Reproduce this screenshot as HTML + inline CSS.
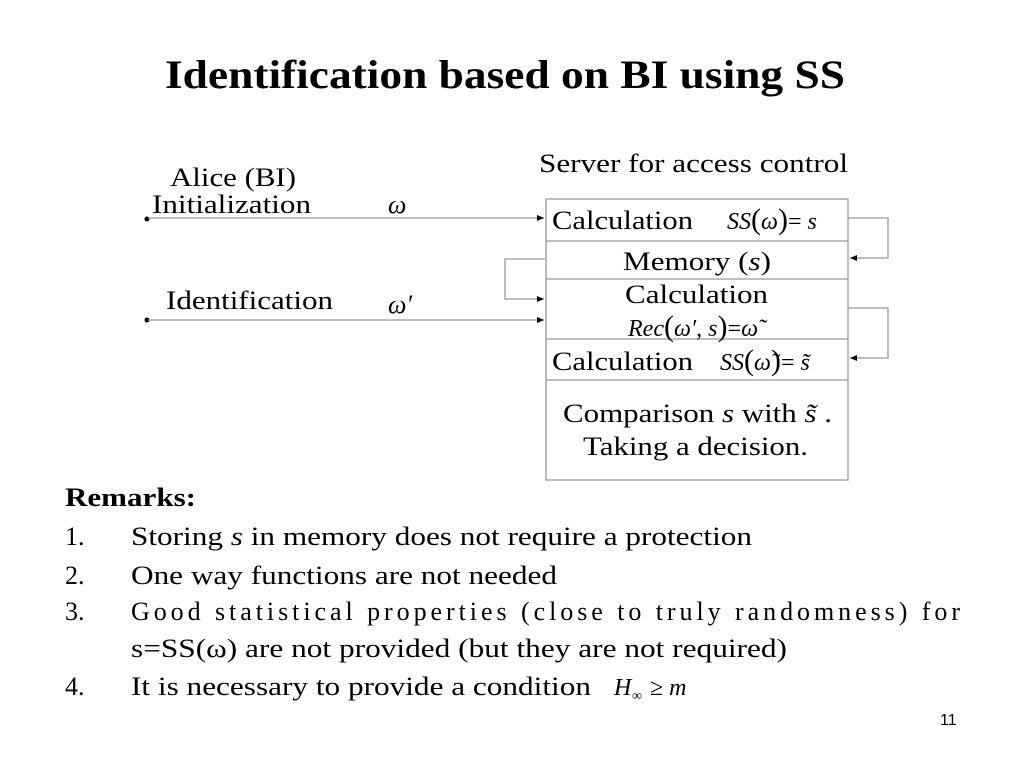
<!DOCTYPE html>
<html><head><meta charset="utf-8"><style>
html,body{margin:0;padding:0;background:#fff;}
svg{display:block;}
text{font-family:"Liberation Serif",serif;fill:#000;}
</style></head><body>
<svg width="1024" height="768" viewBox="0 0 1024 768" xmlns="http://www.w3.org/2000/svg">
<defs><marker id="a" markerWidth="8" markerHeight="8" refX="7" refY="3" orient="auto" markerUnits="userSpaceOnUse"><path d="M0,0 L7,3 L0,6 z" fill="#000"/></marker></defs>
<text x="165" y="88" font-size="40" font-weight="bold" textLength="680" lengthAdjust="spacingAndGlyphs">Identification based on BI using SS</text>
<text x="539" y="172" font-size="26" textLength="309" lengthAdjust="spacingAndGlyphs">Server for access control</text>
<text x="170" y="186" font-size="26" textLength="126" lengthAdjust="spacingAndGlyphs">Alice (BI)</text>
<text x="152" y="213" font-size="26" textLength="159" lengthAdjust="spacingAndGlyphs">Initialization</text>
<text x="388" y="213" font-size="26" font-style="italic">ω</text>
<text x="166" y="309" font-size="26" textLength="167" lengthAdjust="spacingAndGlyphs">Identification</text>
<text x="388" y="313" font-size="26" font-style="italic">ω′</text>
<circle cx="147" cy="219" r="2.5" fill="#000"/>
<circle cx="147" cy="320" r="2.5" fill="#000"/>
<g stroke="#999" stroke-width="1.3" fill="none">
<line x1="148" y1="218" x2="544" y2="218" marker-end="url(#a)"/>
<line x1="148" y1="320" x2="544" y2="320" marker-end="url(#a)"/>
<polyline points="545,259 505,259 505,299 544,299" marker-end="url(#a)"/>
<polyline points="848,218 888,218 888,258 850,258" marker-end="url(#a)"/>
<polyline points="848,308 888,308 888,358 850,358" marker-end="url(#a)"/>
<rect x="546" y="199" width="302" height="281"/>
<line x1="546" y1="241" x2="848" y2="241"/>
<line x1="546" y1="279" x2="848" y2="279"/>
<line x1="546" y1="339" x2="848" y2="339"/>
<line x1="546" y1="380" x2="848" y2="380"/>
</g>
<text x="552" y="229" font-size="26" textLength="141" lengthAdjust="spacingAndGlyphs">Calculation</text>
<text x="727" y="229" font-size="24" font-style="italic">SS<tspan font-style="normal" font-size="30">(</tspan>ω<tspan font-style="normal" font-size="30">)</tspan><tspan font-style="normal">= </tspan>s</text>
<text x="623" y="270" font-size="26" textLength="148" lengthAdjust="spacingAndGlyphs">Memory (<tspan font-style="italic">s</tspan>)</text>
<text x="625" y="303" font-size="26" textLength="143" lengthAdjust="spacingAndGlyphs">Calculation</text>
<text x="628" y="336" font-size="24" font-style="italic">Rec<tspan font-style="normal" font-size="30">(</tspan>ω′, s<tspan font-style="normal" font-size="30">)</tspan><tspan font-style="normal">=</tspan>ω̃</text>
<text x="552" y="370" font-size="26" textLength="141" lengthAdjust="spacingAndGlyphs">Calculation</text>
<text x="720" y="370" font-size="24" font-style="italic">SS<tspan font-style="normal" font-size="30">(</tspan>ω̃<tspan font-style="normal" font-size="30">)</tspan><tspan font-style="normal">= </tspan>s̃</text>
<text x="563" y="422" font-size="26" textLength="269" lengthAdjust="spacingAndGlyphs">Comparison <tspan font-style="italic">s</tspan> with <tspan font-style="italic">s̃</tspan> .</text>
<text x="583" y="455" font-size="26" textLength="225" lengthAdjust="spacingAndGlyphs">Taking a decision.</text>
<text x="65" y="506" font-size="26" font-weight="bold" textLength="131" lengthAdjust="spacingAndGlyphs">Remarks:</text>
<text x="65" y="545" font-size="26">1.</text>
<text x="131" y="545" font-size="26" textLength="621" lengthAdjust="spacingAndGlyphs">Storing <tspan font-style="italic">s</tspan> in memory does not require a protection</text>
<text x="65" y="584" font-size="26">2.</text>
<text x="131" y="584" font-size="26" textLength="426" lengthAdjust="spacingAndGlyphs">One way functions are not needed</text>
<text x="65" y="620" font-size="26">3.</text>
<text x="131" y="620" font-size="26" textLength="829" lengthAdjust="spacing">Good statistical properties (close to truly randomness) for</text>
<text x="131" y="657" font-size="26" textLength="656" lengthAdjust="spacingAndGlyphs">s=SS(ω) are not provided (but they are not required)</text>
<text x="65" y="695" font-size="26">4.</text>
<text x="131" y="695" font-size="26" textLength="460" lengthAdjust="spacingAndGlyphs">It is necessary to provide a condition</text>
<text x="614" y="695" font-size="24" font-style="italic">H</text>
<text x="632" y="700" font-size="14">∞</text>
<text x="650" y="695" font-size="24">≥ <tspan font-style="italic">m</tspan></text>
<text x="940" y="725" font-size="16" style="font-family:'Liberation Sans',sans-serif">11</text>
</svg>
</body></html>
